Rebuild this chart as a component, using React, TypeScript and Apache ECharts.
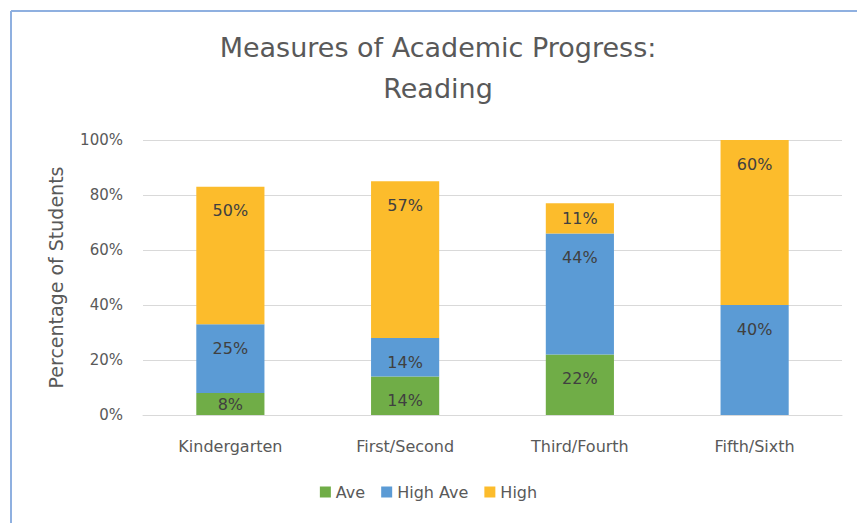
import React, { useEffect, useRef } from "react";
import * as echarts from "echarts";

const categories = ["Kindergarten", "First/Second", "Third/Fourth", "Fifth/Sixth"];
const seriesNames = ["Ave", "High Ave", "High"];
const aveValues = [8, 14, 22, 0];
const highAveValues = [25, 14, 44, 40];
const highValues = [50, 57, 11, 60];
const colors = ["#70AD47", "#5B9BD5", "#FCBC2C"];
const titleLines = ["Measures of Academic Progress:", "Reading"];
const yAxisName = "Percentage of Students";

const FONT = "'DejaVu Sans', 'Open Sans', sans-serif";

function makeData(values: number[]) {
  return values.map((v) => {
    if (v === 0) return { value: v, label: { show: false } };
    if (v < 12) return { value: v, label: { position: "inside" } };
    return { value: v };
  });
}

export default function App() {
  const ref = useRef<HTMLDivElement>(null);
  useEffect(() => {
    if (!ref.current) return;
    const chart = echarts.init(ref.current, undefined, { renderer: "svg" });
    const all = [aveValues, highAveValues, highValues];
    chart.setOption({
      animation: false,
      backgroundColor: "#ffffff",
      textStyle: { fontFamily: FONT },
      graphic: [
        { type: "line", shape: { x1: 11, y1: 11, x2: 857, y2: 11 }, style: { stroke: "#8FB0E0", lineWidth: 2 } },
        { type: "line", shape: { x1: 11, y1: 11, x2: 11, y2: 523 }, style: { stroke: "#8FB0E0", lineWidth: 2 } },
        {
          type: "text",
          x: 438,
          y: 47,
          style: { text: titleLines[0], textAlign: "center", textVerticalAlign: "middle", fill: "#595959", font: `27px ${FONT}` },
        },
        {
          type: "text",
          x: 438,
          y: 88,
          style: { text: titleLines[1], textAlign: "center", textVerticalAlign: "middle", fill: "#595959", font: `27px ${FONT}` },
        },
      ],
      grid: { left: 143, right: 15, top: 140, bottom: 108, containLabel: false },
      legend: {
        data: seriesNames,
        bottom: 18,
        left: "center",
        icon: "rect",
        itemWidth: 11,
        itemHeight: 11,
        itemGap: 16,
        textStyle: { color: "#595959", fontSize: 16, fontFamily: FONT },
      },
      xAxis: {
        type: "category",
        data: categories,
        axisLine: { lineStyle: { color: "#D9D9D9" } },
        axisTick: { show: false },
        axisLabel: { color: "#595959", fontSize: 16, margin: 23, fontFamily: FONT },
      },
      yAxis: {
        type: "value",
        min: 0,
        max: 100,
        interval: 20,
        name: yAxisName,
        nameLocation: "middle",
        nameGap: 78,
        nameTextStyle: { color: "#595959", fontSize: 19, fontFamily: FONT },
        axisLine: { show: false },
        axisTick: { show: false },
        splitLine: { lineStyle: { color: "#D9D9D9" } },
        axisLabel: { color: "#595959", fontSize: 15, margin: 20, formatter: "{value}%", fontFamily: FONT },
      },
      series: seriesNames.map((name, i) => ({
        name,
        type: "bar",
        stack: "total",
        barWidth: "39%",
        data: makeData(all[i]),
        itemStyle: { color: colors[i] },
        label: {
          show: true,
          position: "insideTop",
          distance: 16,
          formatter: (p: any) => `${Math.round(p.value)}%`,
          color: "#404040",
          fontSize: 16,
          fontFamily: FONT,
        },
      })),
    });
    return () => chart.dispose();
  }, []);
  return <div ref={ref} style={{ position: "fixed", left: 0, top: 0, width: 857, height: 523 }} />;
}
